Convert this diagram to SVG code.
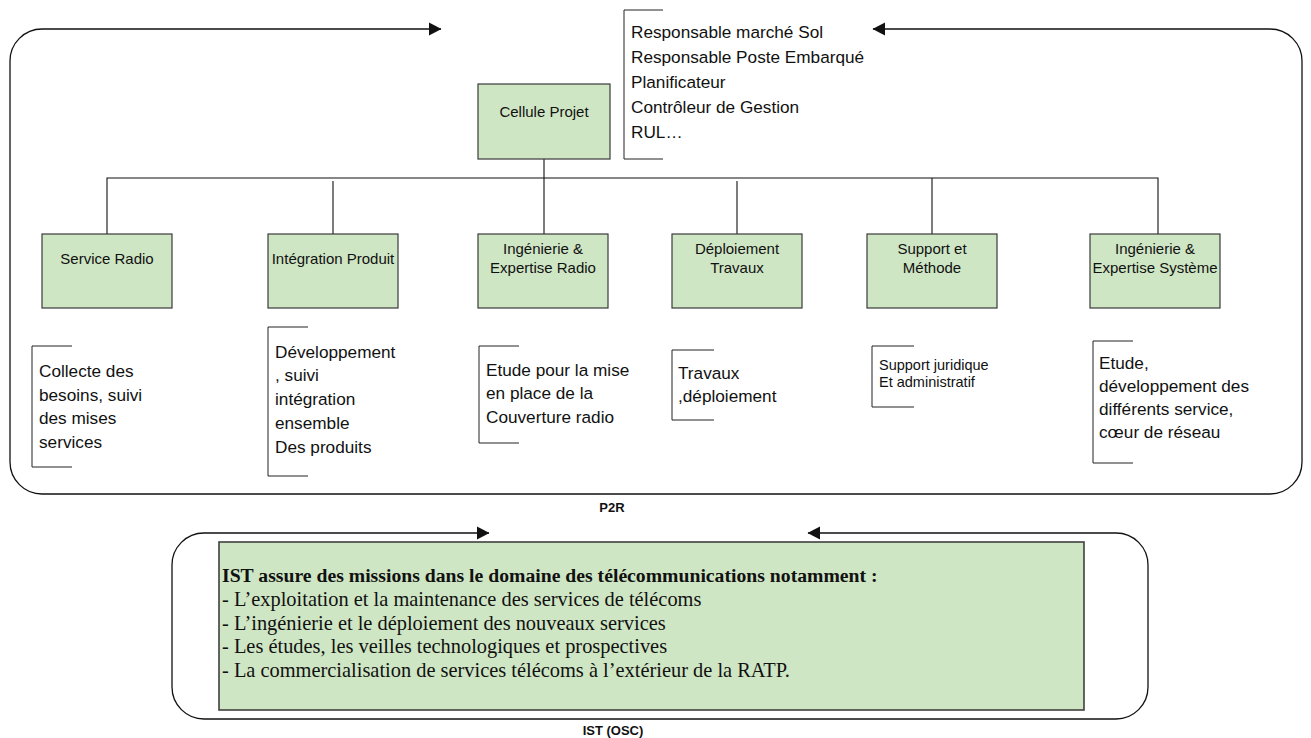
<svg xmlns="http://www.w3.org/2000/svg" width="1311" height="738" viewBox="0 0 1311 738">
<style>
.bg{fill:#ffffff}
.box{fill:#cfe6c4;stroke:#3a3a3a;stroke-width:1.2}
.ist{fill:#cfe6c4;stroke:#404040;stroke-width:1.6}
.line{fill:none;stroke:#111;stroke-width:1.1}
.loop{fill:none;stroke:#111;stroke-width:1.3}
.brk{fill:none;stroke:#222;stroke-width:1}
.lbl{font-family:"Liberation Sans",Arial,sans-serif;font-size:15px;fill:#111;text-anchor:middle}
.desc{font-family:"Liberation Sans",Arial,sans-serif;font-size:17.2px;fill:#111}
.small{font-family:"Liberation Sans",Arial,sans-serif;font-size:14.5px;fill:#111}
.title{font-family:"Liberation Sans",Arial,sans-serif;font-size:13px;font-weight:bold;fill:#111;text-anchor:middle}
.serif{font-family:"Liberation Serif","Times New Roman",serif;font-size:20.4px;fill:#111}
.serifb{font-family:"Liberation Serif","Times New Roman",serif;font-size:19.7px;font-weight:bold;fill:#111}
</style>
<defs>
<marker id="arr" markerUnits="userSpaceOnUse" markerWidth="13" markerHeight="14" refX="12" refY="7" orient="auto-start-reverse">
<path d="M0,0.5 L12.5,7 L0,13.5 Z" fill="#111"/>
</marker>
</defs>
<rect class="bg" x="0" y="0" width="1311" height="738"/>

<g id="connectors">
<path class="loop" d="M873,29 H1270 A32,32 0 0 1 1302,61 V462 A32,32 0 0 1 1270,494 H42 A32,32 0 0 1 10,462 V61 A32,32 0 0 1 42,29 H441" marker-start="url(#arr)" marker-end="url(#arr)"/>
<path class="loop" d="M808,533 H1116 A32,32 0 0 1 1148,565 V687 A32,32 0 0 1 1116,719 H204 A32,32 0 0 1 172,687 V565 A32,32 0 0 1 204,533 H489" marker-start="url(#arr)" marker-end="url(#arr)"/>
<path class="line" d="M544,159 V234"/>
<path class="line" d="M107,234 V178 H1158 V234"/>
<path class="line" d="M333,181 V234"/>
<path class="line" d="M737,181 V234"/>
<path class="line" d="M932,178 V234"/>
</g>

<g id="roles">
<path class="brk" d="M663,10 H624 V159 H663"/>
<text class="desc" x="631" y="38">Responsable marché Sol</text>
<text class="desc" x="631" y="63">Responsable Poste Embarqué</text>
<text class="desc" x="631" y="88">Planificateur</text>
<text class="desc" x="631" y="113">Contrôleur de Gestion</text>
<text class="desc" x="631" y="138">RUL…</text>
</g>

<g id="cellule-projet">
<rect class="box" x="478" y="84" width="132" height="75"/>
<text class="lbl" x="544" y="117">Cellule Projet</text>
</g>

<g id="service-radio">
<rect class="box" x="42" y="234" width="130" height="74"/>
<text class="lbl" x="107" y="264">Service Radio</text>
</g>
<g id="integration-produit">
<rect class="box" x="268" y="234" width="130" height="74"/>
<text class="lbl" x="333" y="264">Intégration Produit</text>
</g>
<g id="ingenierie-radio">
<rect class="box" x="478" y="234" width="130" height="74"/>
<text class="lbl" x="543" y="254">Ingénierie &amp;</text>
<text class="lbl" x="543" y="273">Expertise Radio</text>
</g>
<g id="deploiement-travaux">
<rect class="box" x="672" y="234" width="130" height="74"/>
<text class="lbl" x="737" y="254">Déploiement</text>
<text class="lbl" x="737" y="273">Travaux</text>
</g>
<g id="support-methode">
<rect class="box" x="867" y="234" width="130" height="74"/>
<text class="lbl" x="932" y="254">Support et</text>
<text class="lbl" x="932" y="273">Méthode</text>
</g>
<g id="ingenierie-systeme">
<rect class="box" x="1090" y="234" width="130" height="74"/>
<text class="lbl" x="1155" y="254">Ingénierie &amp;</text>
<text class="lbl" x="1155" y="273">Expertise Système</text>
</g>

<g id="desc-service-radio">
<path class="brk" d="M72,346 H32 V467 H72"/>
<text class="desc" x="39" y="377">Collecte des</text>
<text class="desc" x="39" y="401">besoins, suivi</text>
<text class="desc" x="39" y="424">des mises</text>
<text class="desc" x="39" y="448">services</text>
</g>
<g id="desc-integration">
<path class="brk" d="M308,327 H268 V476 H308"/>
<text class="desc" x="275" y="358">Développement</text>
<text class="desc" x="275" y="381">, suivi</text>
<text class="desc" x="275" y="405">intégration</text>
<text class="desc" x="275" y="429">ensemble</text>
<text class="desc" x="275" y="453">Des produits</text>
</g>
<g id="desc-radio">
<path class="brk" d="M519,346 H479 V443 H519"/>
<text class="desc" x="486" y="376">Etude pour la mise</text>
<text class="desc" x="486" y="399">en place de la</text>
<text class="desc" x="486" y="423">Couverture radio</text>
</g>
<g id="desc-deploiement">
<path class="brk" d="M714,350 H672 V420 H714"/>
<text class="desc" x="678" y="379">Travaux</text>
<text class="desc" x="678" y="402">,déploiement</text>
</g>
<g id="desc-support">
<path class="brk" d="M914,346 H872 V407 H914"/>
<text class="small" x="879" y="370">Support juridique</text>
<text class="small" x="879" y="387">Et administratif</text>
</g>
<g id="desc-systeme">
<path class="brk" d="M1133,341 H1093 V463 H1133"/>
<text class="desc" x="1099" y="369">Etude,</text>
<text class="desc" x="1099" y="392">développement des</text>
<text class="desc" x="1099" y="415">différents service,</text>
<text class="desc" x="1099" y="438"> cœur de réseau</text>
</g>

<g id="label-p2r">
<text class="title" x="612" y="512">P2R</text>
</g>

<g id="ist-box">
<rect class="ist" x="219" y="542" width="865" height="168"/>
<text class="serifb" x="222" y="582">IST assure des missions dans le domaine des télécommunications notamment :</text>
<text class="serif" x="222" y="606">- L’exploitation et la maintenance des services de télécoms</text>
<text class="serif" x="222" y="630">- L’ingénierie et le déploiement des nouveaux services</text>
<text class="serif" x="222" y="653">- Les études, les veilles technologiques et prospectives</text>
<text class="serif" x="222" y="677">- La commercialisation de services  télécoms à l’extérieur de la RATP.</text>
</g>

<g id="label-ist">
<text class="title" x="613" y="735">IST (OSC)</text>
</g>
</svg>
